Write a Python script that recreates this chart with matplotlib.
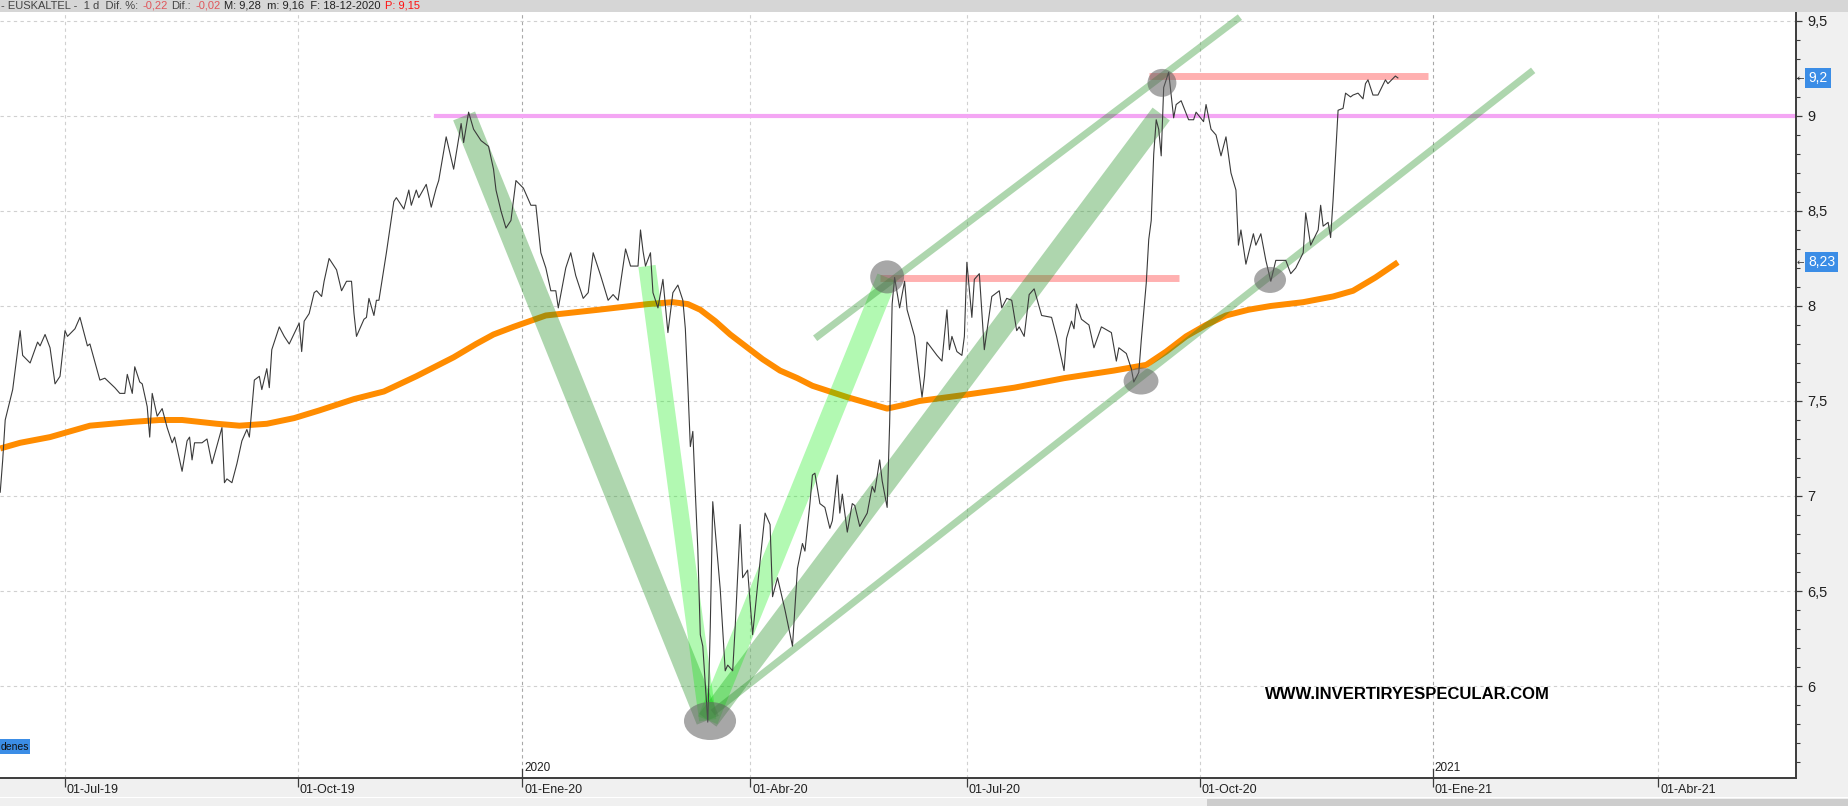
import matplotlib
matplotlib.use('Agg')
import matplotlib.pyplot as plt
import matplotlib.transforms as mtransforms
from matplotlib.patches import Ellipse, Rectangle

plt.rcParams['font.family'] = ['Liberation Sans', 'DejaVu Sans']

# eje x: dias desde 01-Jul-19 en la escala del grafico
dias = [-26, -25, -24, -21, -18, -17, -14, -11, -10, -8, -6, -4, -2, 0, 1, 4, 6, 9, 10, 14,
        16, 20, 22, 24, 25, 27, 28, 30, 31, 33, 34, 35, 37, 39, 41, 43, 44, 47, 49, 50,
        51, 52, 55, 57, 59, 63, 64, 65, 67, 69, 71, 73, 74, 76, 78, 79, 81, 82, 83, 86,
        88, 90, 94, 95, 96, 98, 100, 101, 103, 104, 106, 109, 111, 113, 115, 116, 117, 120, 121, 122,
        124, 125, 126, 129, 132, 133, 136, 138, 139, 141, 142, 145, 147, 149, 150, 153, 156, 159, 160, 162,
        164, 167, 170, 172, 173, 175, 177, 179, 181, 184, 187, 189, 191, 193, 195, 197, 198, 201, 203, 205,
        208, 210, 212, 215, 218, 220, 222, 225, 227, 230, 231, 232, 233, 235, 236, 238, 240, 242, 244, 246,
        248, 249, 250, 251, 252, 253, 254, 255, 256, 258, 259, 260, 262, 263, 265, 266, 268, 269, 271, 272,
        274, 276, 278, 281, 283, 284, 286, 289, 292, 294, 296, 297, 299, 300, 301, 303, 305, 307, 308, 310,
        311, 312, 314, 316, 317, 319, 322, 324, 325, 327, 328, 330, 331, 332, 333, 335, 337, 338, 341, 344,
        345, 346, 350, 352, 354, 355, 356, 358, 360, 361, 362, 364, 365, 367, 369, 372, 375, 376, 378, 380,
        382, 383, 385, 387, 389, 392, 396, 398, 401, 402, 404, 405, 406, 408, 411, 413, 416, 420, 422, 423,
        426, 428, 429, 431, 432, 434, 435, 436, 437, 438, 439, 440, 441, 443, 445, 446, 448, 451, 453, 454,
        457, 458, 460, 462, 464, 466, 468, 470, 471, 472, 474, 477, 478, 480, 482, 484, 486, 490, 492, 494,
        497, 498, 500, 503, 504, 505, 507, 508, 509, 511, 513, 514, 516, 517, 519, 521, 522, 523, 525, 527,
        530, 531, 534, 535]
precio = [7.02, 7.19, 7.40, 7.56, 7.87, 7.74, 7.70, 7.81, 7.79, 7.85, 7.78, 7.59, 7.63, 7.87, 7.84, 7.88, 7.94, 7.79, 7.80, 7.61,
          7.62, 7.57, 7.54, 7.54, 7.64, 7.54, 7.68, 7.60, 7.59, 7.47, 7.31, 7.54, 7.42, 7.46, 7.36, 7.28, 7.31, 7.13, 7.29, 7.31,
          7.19, 7.28, 7.28, 7.30, 7.17, 7.36, 7.07, 7.09, 7.07, 7.17, 7.29, 7.35, 7.31, 7.61, 7.63, 7.56, 7.67, 7.57, 7.77, 7.89,
          7.84, 7.80, 7.91, 7.76, 7.92, 7.96, 8.07, 8.08, 8.05, 8.13, 8.25, 8.19, 8.08, 8.13, 8.13, 7.96, 7.84, 7.93, 7.94, 8.04,
          7.95, 8.03, 8.03, 8.28, 8.55, 8.57, 8.51, 8.61, 8.53, 8.61, 8.57, 8.64, 8.52, 8.62, 8.66, 8.89, 8.72, 8.96, 8.86, 9.02,
          8.93, 8.87, 8.84, 8.72, 8.61, 8.50, 8.41, 8.45, 8.66, 8.62, 8.53, 8.53, 8.28, 8.20, 8.08, 8.08, 7.99, 8.20, 8.28, 8.16,
          8.04, 8.07, 8.28, 8.16, 8.03, 8.06, 8.03, 8.30, 8.21, 8.21, 8.40, 8.29, 8.21, 8.28, 8.07, 7.99, 8.14, 7.86, 8.07, 8.11,
          8.03, 7.88, 7.58, 7.26, 7.34, 7.02, 6.72, 6.27, 6.21, 5.81, 6.31, 6.97, 6.66, 6.51, 6.08, 6.11, 6.08, 6.31, 6.85, 6.57,
          6.61, 6.27, 6.53, 6.91, 6.85, 6.47, 6.57, 6.40, 6.21, 6.62, 6.75, 6.71, 6.96, 7.11, 7.12, 6.96, 6.94, 6.83, 6.87, 7.11,
          6.91, 7.01, 6.81, 6.96, 6.95, 6.84, 6.91, 7.05, 7.02, 7.19, 7.08, 6.94, 7.38, 8.01, 8.15, 7.99, 8.13, 7.98, 7.84, 7.52,
          7.63, 7.81, 7.74, 7.71, 7.98, 7.77, 7.84, 7.76, 7.74, 7.84, 8.23, 7.94, 8.14, 8.17, 7.77, 8.05, 8.08, 7.99, 8.04, 8.03,
          7.87, 7.89, 7.84, 8.06, 8.09, 7.95, 7.94, 7.84, 7.66, 7.83, 7.92, 7.88, 8.01, 7.93, 7.90, 7.78, 7.89, 7.86, 7.71, 7.78,
          7.75, 7.67, 7.60, 7.65, 7.82, 8.12, 8.35, 8.45, 8.80, 8.98, 8.93, 8.79, 9.15, 9.23, 8.99, 9.06, 9.08, 8.98, 8.98, 9.02,
          8.97, 9.06, 8.93, 8.90, 8.79, 8.89, 8.70, 8.61, 8.32, 8.40, 8.22, 8.38, 8.32, 8.38, 8.24, 8.13, 8.24, 8.24, 8.17, 8.20,
          8.28, 8.49, 8.32, 8.40, 8.53, 8.42, 8.44, 8.36, 8.56, 9.03, 9.04, 9.12, 9.10, 9.11, 9.12, 9.09, 9.17, 9.19, 9.11, 9.11,
          9.19, 9.17, 9.21, 9.20]

media_dias = [-26, -18, -6, 10, 27, 38, 47, 54, 61, 70, 81, 92, 102, 116, 128, 141, 156, 165, 172, 180,
              193, 214, 234, 244, 250, 255, 261, 267, 274, 280, 287, 294, 300, 307, 314, 322, 330, 337, 343, 360,
              381, 401, 421, 434, 442, 450, 458, 466, 475, 484, 497, 509, 517, 526, 535]
media = [7.25, 7.28, 7.31, 7.37, 7.39, 7.40, 7.40, 7.39, 7.38, 7.37, 7.38, 7.41, 7.45, 7.51, 7.55, 7.63, 7.73, 7.80, 7.85, 7.89,
         7.95, 7.98, 8.01, 8.02, 8.01, 7.98, 7.92, 7.85, 7.78, 7.72, 7.66, 7.62, 7.58, 7.55, 7.52, 7.49, 7.46, 7.48, 7.50, 7.53,
         7.57, 7.62, 7.66, 7.69, 7.76, 7.84, 7.90, 7.95, 7.98, 8.00, 8.02, 8.05, 8.08, 8.15, 8.23]

tick_dias = [0, 93.5, 183.5, 275, 362, 455.5, 549, 639.5]
tick_etiquetas = ['01-Jul-19', '01-Oct-19', '01-Ene-20', '01-Abr-20',
                  '01-Jul-20', '01-Oct-20', '01-Ene-21', '01-Abr-21']
anio_dias = [183.5, 549]
anio_etiquetas = ['2020', '2021']
niveles_y = [6, 6.5, 7, 7.5, 8, 8.5, 9, 9.5]

# objetos dibujados sobre el grafico
soporte_rosa = [9.0, 149, 694.8]
resistencias = [[9.21, 435, 547], [8.147, 327, 447]]
bandas_oscuras = [[(160.2, 9.0), (258, 5.82)], [(258, 5.82), (440, 9.01)]]
bandas_claras = [[(233.6, 8.21), (258, 5.82)], [(258, 5.82), (330, 8.15)]]
canales = [[(260, 5.86), (589.3, 9.24)], [(301.1, 7.83), (471.6, 9.52)]]
circulos = [(258.9, 5.816), (330, 8.153), (440.3, 9.174), (431.9, 7.605), (483.7, 8.137)]
circulos_tam = [(20.9, 0.20), (13.6, 0.174), (11.6, 0.147), (14.0, 0.142), (12.8, 0.137)]

W, H = 1849, 806
fig = plt.figure(figsize=(W / 100, H / 100), dpi=100)
fig.patch.set_facecolor('#f0f0f0')

ax = fig.add_axes([0, 1 - 778 / H, 1796 / W, (778 - 12) / H])
ax.set_facecolor('white')
ax.set_xlim(-26.09, 694.8)
ax.set_ylim(5.516, 9.547)

# rejilla
for p, lab in zip(tick_dias, tick_etiquetas):
    col = '#a8a8a8' if 'Ene' in lab else '#d0d0d0'
    ax.axvline(p, color=col, lw=0.8, ls=(0, (3, 3)), zorder=0)
for v in niveles_y:
    ax.axhline(v, color='#d0d0d0', lw=0.8, ls=(0, (3, 3)), zorder=0)

# media movil
ax.plot(media_dias, media, color='#ff8c00', lw=4.3, zorder=2, solid_capstyle='butt',
        solid_joinstyle='round')

# lineas horizontales
ax.plot([soporte_rosa[1], soporte_rosa[2]], [soporte_rosa[0]] * 2, color='#f4a6f4', lw=3, zorder=2.5)
for v, x0, x1 in resistencias:
    ax.plot([x0, x1], [v, v], color='#ffb0b0', lw=5, zorder=2.5, solid_capstyle='butt')

# bandas de tendencia
for (a, b), lw in zip(bandas_oscuras, [17, 15.5]):
    ax.plot([a[0], b[0]], [a[1], b[1]], color='#1f8f1f', alpha=0.36, lw=lw,
            solid_capstyle='butt', zorder=3)
for (a, b), lw in zip(bandas_claras, [12.5, 15]):
    ax.plot([a[0], b[0]], [a[1], b[1]], color='#00ee00', alpha=0.3, lw=lw,
            solid_capstyle='butt', zorder=3)
for a, b in canales:
    ax.plot([a[0], b[0]], [a[1], b[1]], color='#1f8f1f', alpha=0.36, lw=5,
            solid_capstyle='butt', zorder=3)

# precio
ax.plot(dias, precio, color='#3a3a3a', lw=0.8, zorder=4)

for (cx, cy), (w, h) in zip(circulos, circulos_tam):
    ax.add_patch(Ellipse((cx, cy), w, h, facecolor='#606060', alpha=0.55,
                         edgecolor='none', zorder=5))

ax.text(538.7, 5.958, 'WWW.INVERTIRYESPECULAR.COM', fontsize=12, fontweight='bold',
        color='black', ha='center', va='center', zorder=6)

# ejes
for s in ['top', 'left']:
    ax.spines[s].set_visible(False)
for s in ['bottom', 'right']:
    ax.spines[s].set_color('#3c3c3c')
    ax.spines[s].set_linewidth(1.4)

ax.set_xticks(tick_dias, tick_etiquetas)
ax.tick_params(axis='x', direction='out', length=6.5, width=0.9, color='#3c3c3c',
               pad=-2, labelsize=9, labelcolor='#202020')
desplazar = mtransforms.ScaledTranslation(2 / 100, 0, fig.dpi_scale_trans)
for lbl in ax.get_xticklabels():
    lbl.set_horizontalalignment('left')
    lbl.set_transform(lbl.get_transform() + desplazar)

xt = ax.get_xaxis_transform()
for p, lab in zip(anio_dias, anio_etiquetas):
    ax.plot([p, p], [0, 9 / 766], transform=xt, color='#3c3c3c', lw=0.9, clip_on=False)
    ax.text(p, 10 / 766, lab, transform=xt + desplazar, fontsize=8.5, color='#202020',
            ha='left', va='center')

ax.yaxis.tick_right()
ax.set_yticks(niveles_y, [f'{v:g}'.replace('.', ',') for v in niveles_y])
ax.set_yticks([v / 10 for v in range(56, 96)], minor=True)
ax.tick_params(axis='y', which='major', direction='out', length=4.3, width=0.9,
               color='#3c3c3c', pad=3.6, labelsize=10.5, labelcolor='#202020')
ax.tick_params(axis='y', which='minor', direction='out', length=2.9, width=0.8,
               color='#3c3c3c')

yt = ax.get_yaxis_transform()
for v, txt in [(precio[-1], f'{precio[-1]:g}'.replace('.', ',')),
               (media[-1], f'{media[-1]:g}'.replace('.', ','))]:
    ax.text(1.0068, v, txt, transform=yt, fontsize=10, color='white', ha='left', va='center',
            bbox=dict(boxstyle='square,pad=0.22', fc='#3b8de6', ec='none'), clip_on=False)
    ax.text(1.0004, v, '\u2190', transform=yt, fontsize=6.5, color='#333333', ha='left',
            va='center', family='DejaVu Sans', clip_on=False)

# marco de la aplicacion
fig.patches.append(Rectangle((0, 1 - 12 / H), 1, 12 / H, transform=fig.transFigure,
                             facecolor='#d6d6d6', edgecolor='none', zorder=0))
fig.patches.append(Rectangle((0, 1 - 798 / H), 1, 1.2 / H, transform=fig.transFigure,
                             facecolor='white', edgecolor='none'))
fig.patches.append(Rectangle((1207 / W, 0), 1 - 1207 / W, 7 / H, transform=fig.transFigure,
                             facecolor='#cdcdcd', edgecolor='none'))
fig.patches.append(Rectangle((0, 1 - 754 / H), 30 / W, 15 / H, transform=fig.transFigure,
                             facecolor='#3b8de6', edgecolor='none', zorder=10))
fig.text(1 / W, 1 - 746.5 / H, 'denes', fontsize=7.5, color='#101010', ha='left', va='center',
         zorder=11)

piezas = [('- EUSKALTEL -  1 d  Dif. %:', '#444444'), ('-0,22', '#e0565b'),
          ('Dif.:', '#444444'), ('-0,02', '#e0565b'),
          ('M: 9,28  m: 9,16  F: 18-12-2020', '#222222'), ('P: 9,15', '#ff1010')]
rend = fig.canvas.get_renderer()
x = 1
for txt, col in piezas:
    t = fig.text(x / W, 1 - 6 / H, txt, color=col, fontsize=8, ha='left', va='center')
    x += t.get_window_extent(renderer=rend).width + 4

fig.savefig('out.png', dpi=100, facecolor=fig.get_facecolor())
